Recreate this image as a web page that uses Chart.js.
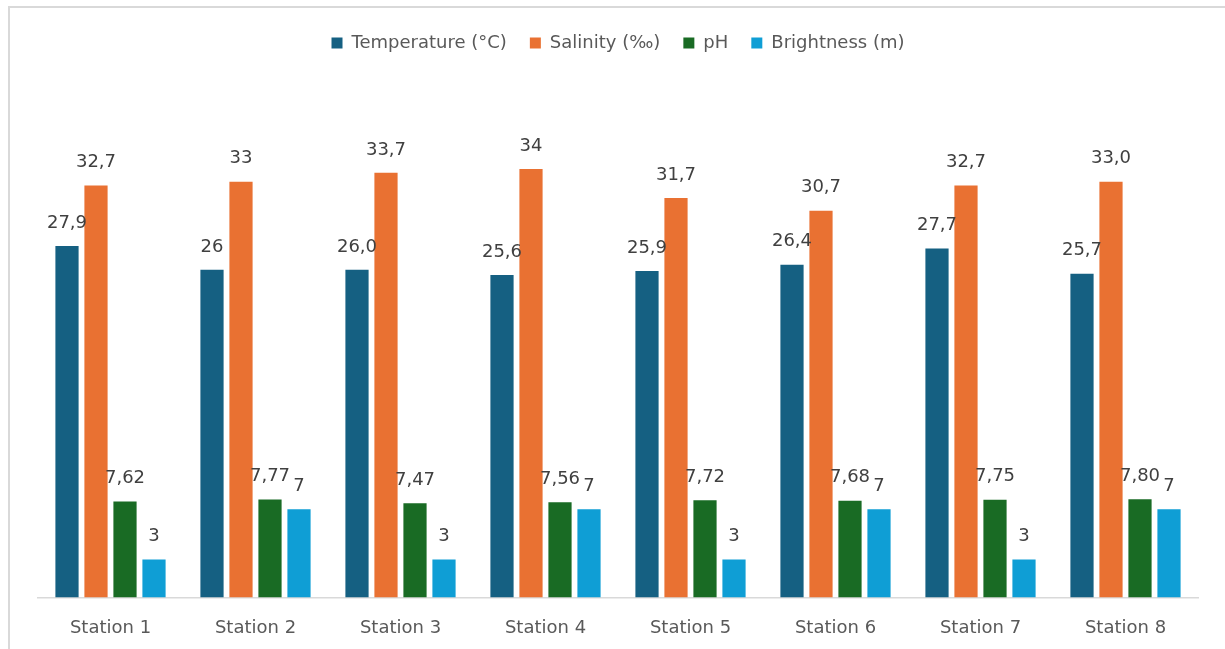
<!DOCTYPE html>
<html lang="en">
<head>
<meta charset="UTF-8">
<title>Stations</title>
<script src="https://cdn.jsdelivr.net/npm/chart.js"></script>
<style>
    html, body { margin: 0; padding: 0; background: #fff; overflow: hidden; }
    .moldura {
        position: absolute; left: 8px; top: 6px; width: 1400px; height: 800px;
        border-top: 2px solid #d9d9d9; border-left: 2px solid #d9d9d9;
    }
    .grafico { position: absolute; left: 0; top: 0; width: 1225px; height: 651px; }
</style>
</head>
<body>
<div class="moldura"></div>
<div class="grafico"><canvas id="grafico"></canvas></div>

<script>
    // dados
    var estacoes = ['Station 1', 'Station 2', 'Station 3', 'Station 4', 'Station 5', 'Station 6', 'Station 7', 'Station 8']
    var temperatura = [27.9, 26, 26.0, 25.6, 25.9, 26.4, 27.7, 25.7]
    var salinidade = [32.7, 33, 33.7, 34, 31.7, 30.7, 32.7, 33.0]
    var ph = [7.62, 7.77, 7.47, 7.56, 7.72, 7.68, 7.75, 7.80]
    var brilho = [3, 7, 3, 7, 3, 7, 3, 7]

    // rotulos exatamente como aparecem
    var rotTemperatura = ['27,9', '26', '26,0', '25,6', '25,9', '26,4', '27,7', '25,7']
    var rotSalinidade = ['32,7', '33', '33,7', '34', '31,7', '30,7', '32,7', '33,0']
    var rotPh = ['7,62', '7,77', '7,47', '7,56', '7,72', '7,68', '7,75', '7,80']
    var rotBrilho = ['3', '7', '3', '7', '3', '7', '3', '7']

    var fonte = '"DejaVu Sans", sans-serif'

    const rotulosPlugin = {
        id: 'rotulos',
        afterDatasetsDraw(chart) {
            const ctx = chart.ctx;
            ctx.save();
            ctx.font = '18px ' + fonte;
            ctx.fillStyle = '#404040';
            ctx.textAlign = 'center';
            ctx.textBaseline = 'middle';
            chart.data.datasets.forEach((ds, i) => {
                chart.getDatasetMeta(i).data.forEach((bar, j) => {
                    ctx.fillText(ds.rotulos[j], bar.x, bar.y - 23);
                });
            });
            ctx.restore();
        }
    };

    const data = {
        labels: estacoes,
        datasets: [
            { label: 'Temperature (°C)', data: temperatura, rotulos: rotTemperatura, backgroundColor: '#156082' },
            { label: 'Salinity (‰)', data: salinidade, rotulos: rotSalinidade, backgroundColor: '#E97132' },
            { label: 'pH', data: ph, rotulos: rotPh, backgroundColor: '#196B24' },
            { label: 'Brightness (m)', data: brilho, rotulos: rotBrilho, backgroundColor: '#0F9ED5' }
        ]
    };

    new Chart(document.getElementById('grafico'), {
        type: 'bar',
        data: data,
        plugins: [rotulosPlugin],
        options: {
            responsive: true,
            maintainAspectRatio: false,
            animation: false,
            categoryPercentage: 0.8,
            barPercentage: 0.8,
            layout: { padding: { left: 38, right: 27, top: 11, bottom: 0 } },
            plugins: {
                tooltip: { enabled: false },
                legend: {
                    position: 'top',
                    labels: {
                        boxWidth: 11, boxHeight: 11, padding: 23,
                        color: '#595959',
                        font: { size: 18, family: fonte }
                    }
                }
            },
            scales: {
                x: {
                    grid: { display: false },
                    border: { display: true, color: '#d9d9d9', width: 1.5 },
                    ticks: { color: '#595959', padding: 12, font: { size: 18, family: fonte } }
                },
                y: {
                    display: false,
                    min: 0,
                    max: 42.5
                }
            }
        }
    });
</script>
</body>
</html>
